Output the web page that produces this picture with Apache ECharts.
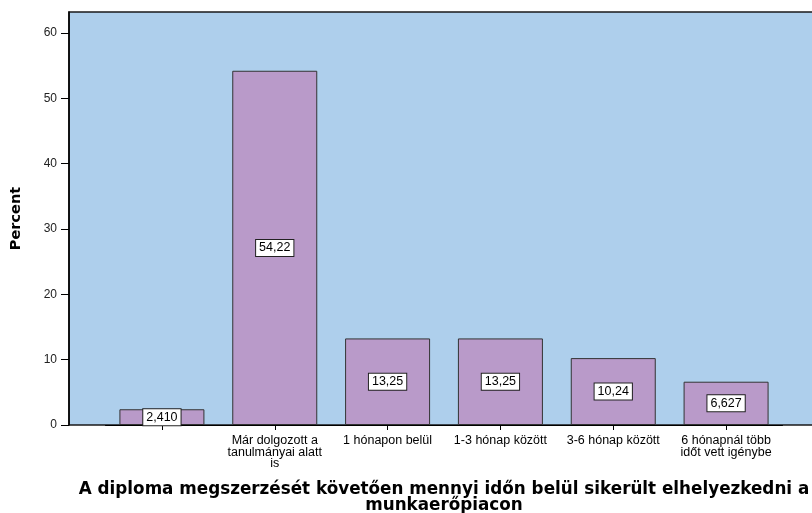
<!DOCTYPE html>
<html>
<head>
<meta charset="utf-8">
<script src="https://cdn.jsdelivr.net/npm/echarts@6/dist/echarts.min.js"></script>
<style>
  html, body { margin: 0; padding: 0; background: #fff; }
  #chart { width: 812px; height: 513px; }
</style>
</head>
<body>
<div id="chart"></div>
<script>
// kategóriák és értékek
const categories = [
  '',
  'Már dolgozott a\ntanulmányai alatt\nis',
  '1 hónapon belül',
  '1-3 hónap között',
  '3-6 hónap között',
  '6 hónapnál több\nidőt vett igénybe'
]
const percents = [2.410, 54.22, 13.25, 13.25, 10.24, 6.627]
const yTicks = [0, 10, 20, 30, 40, 50, 60]

const font = 'Arial, "Liberation Sans", sans-serif'
const boldFont = '"DejaVu Sans", Verdana, sans-serif'

const chart = echarts.init(document.getElementById('chart'), null, { renderer: 'canvas' })

let option = {
  animation: false,
  grid: [
    // keret + háttér
    {
      left: 69, top: 12, right: -7, bottom: 88,
      outerBoundsMode: 'none',
      show: true,
      backgroundColor: '#AECFEC',
      borderColor: '#1a1a1a',
      borderWidth: 1.5
    },
    // oszlopok (60 a 33. pixelsornál)
    { left: 105.5, top: 33, right: 29.5, bottom: 88, outerBoundsMode: 'none' }
  ],
  xAxis: [
    { gridIndex: 0, type: 'value', show: false, min: 0, max: 1 },
    {
      gridIndex: 1,
      type: 'category',
      data: categories,
      axisLine: { show: true, lineStyle: { color: '#000', width: 1 } },
      axisTick: { show: true, alignWithLabel: true, length: 5, lineStyle: { color: '#000' } },
      axisLabel: {
        interval: 0, fontSize: 12.5, lineHeight: 11.5, color: '#000',
        fontFamily: font, margin: 10
      },
      name: 'A diploma megszerzését követően mennyi időn belül sikerült elhelyezkedni a\nmunkaerőpiacon',
      nameLocation: 'middle',
      nameGap: 57,
      nameMoveOverlap: false,
      nameTextStyle: {
        fontSize: 16.8, fontWeight: 'bold', color: '#000',
        fontFamily: boldFont, lineHeight: 16
      }
    }
  ],
  yAxis: [
    {
      gridIndex: 0,
      type: 'value',
      min: 0, max: 1,
      splitLine: { show: false },
      axisLine: { show: true, lineStyle: { color: '#000', width: 1.5 } },
      axisTick: { show: false },
      axisLabel: { show: false },
      name: 'Percent',
      nameLocation: 'middle',
      nameGap: 45,
      nameMoveOverlap: false,
      nameTextStyle: { fontSize: 14.5, fontWeight: 'bold', color: '#000', fontFamily: boldFont }
    },
    {
      gridIndex: 1,
      type: 'value',
      min: yTicks[0], max: yTicks[yTicks.length - 1], interval: 10,
      offset: 36.5,
      splitLine: { show: false },
      axisLine: { show: false },
      axisTick: { show: true, length: 8, lineStyle: { color: '#000' } },
      axisLabel: { fontSize: 12, color: '#222', fontFamily: font, margin: 12 }
    }
  ],
  series: [
    {
      type: 'bar',
      xAxisIndex: 1,
      yAxisIndex: 1,
      data: percents,
      barWidth: 85,
      itemStyle: { color: '#B99AC9', borderColor: '#333', borderWidth: 1 },
      label: {
        show: true,
        position: 'inside',
        formatter: p => p.value.toPrecision(4).replace('.', ','),
        backgroundColor: '#fff',
        borderColor: '#222',
        borderWidth: 1,
        padding: [2, 3, 1, 3],
        color: '#000',
        fontSize: 12.5,
        fontFamily: font
      }
    }
  ]
}
chart.setOption(option)
</script>
</body>
</html>
